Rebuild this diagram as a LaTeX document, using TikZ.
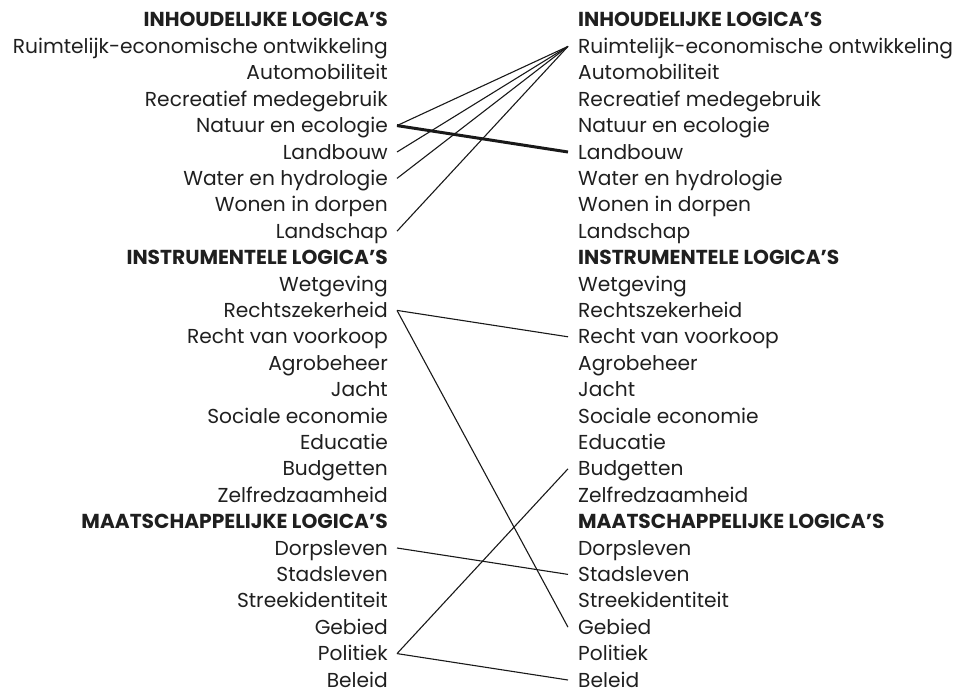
\documentclass[tikz,border=0pt]{standalone}
\usepackage{fontspec}
\setmainfont{Poppins}
\begin{document}
\begin{tikzpicture}[x=1pt,y=-1pt,
  lbl/.style={inner sep=0pt,text height=14pt,text depth=0pt,text=black!88,font=\fontsize{20.2}{22}\selectfont},
  links/.style={line width=1.1pt,black!90},
  strong/.style={line width=3pt,black!90}]
  \useasboundingbox (0,0) rectangle (962,696);
  \foreach \t [count=\i from 0] in {{\bfseries INHOUDELIJKE LOGICA’S},Ruimtelijk-economische ontwikkeling,Automobiliteit,Recreatief medegebruik,Natuur en ecologie,Landbouw,Water en hydrologie,Wonen in dorpen,Landschap,{\bfseries INSTRUMENTELE LOGICA’S},Wetgeving,Rechtszekerheid,Recht van voorkoop,Agrobeheer,Jacht,Sociale economie,Educatie,Budgetten,Zelfredzaamheid,{\bfseries MAATSCHAPPELIJKE LOGICA’S},Dorpsleven,Stadsleven,Streekidentiteit,Gebied,Politiek,Beleid}
    {\node[lbl,anchor=east] (l\i) at (388,20+26.4*\i) {\t}; \node[lbl,anchor=west] (r\i) at (578,20+26.4*\i) {\t};}
  % inhoudelijk
  \foreach \a in {4,5,6,8} \draw[links] ([xshift=9pt]l\a.east)--([xshift=-10pt]r1.west);
  \draw[strong] ([xshift=9pt]l4.east)--([xshift=-10pt]r5.west);
  % instrumenteel en maatschappelijk
  \draw[links] ([xshift=9pt]l11.east)--([xshift=-10pt]r12.west); \draw[links] ([xshift=9pt]l11.east)--([xshift=-10pt]r23.west);
  \draw[links] ([xshift=9pt]l20.east)--([xshift=-10pt]r21.west);
  \draw[links] ([xshift=9pt]l24.east)--([xshift=-10pt]r17.west); \draw[links] ([xshift=9pt]l24.east)--([xshift=-10pt]r25.west);
\end{tikzpicture}
\end{document}
